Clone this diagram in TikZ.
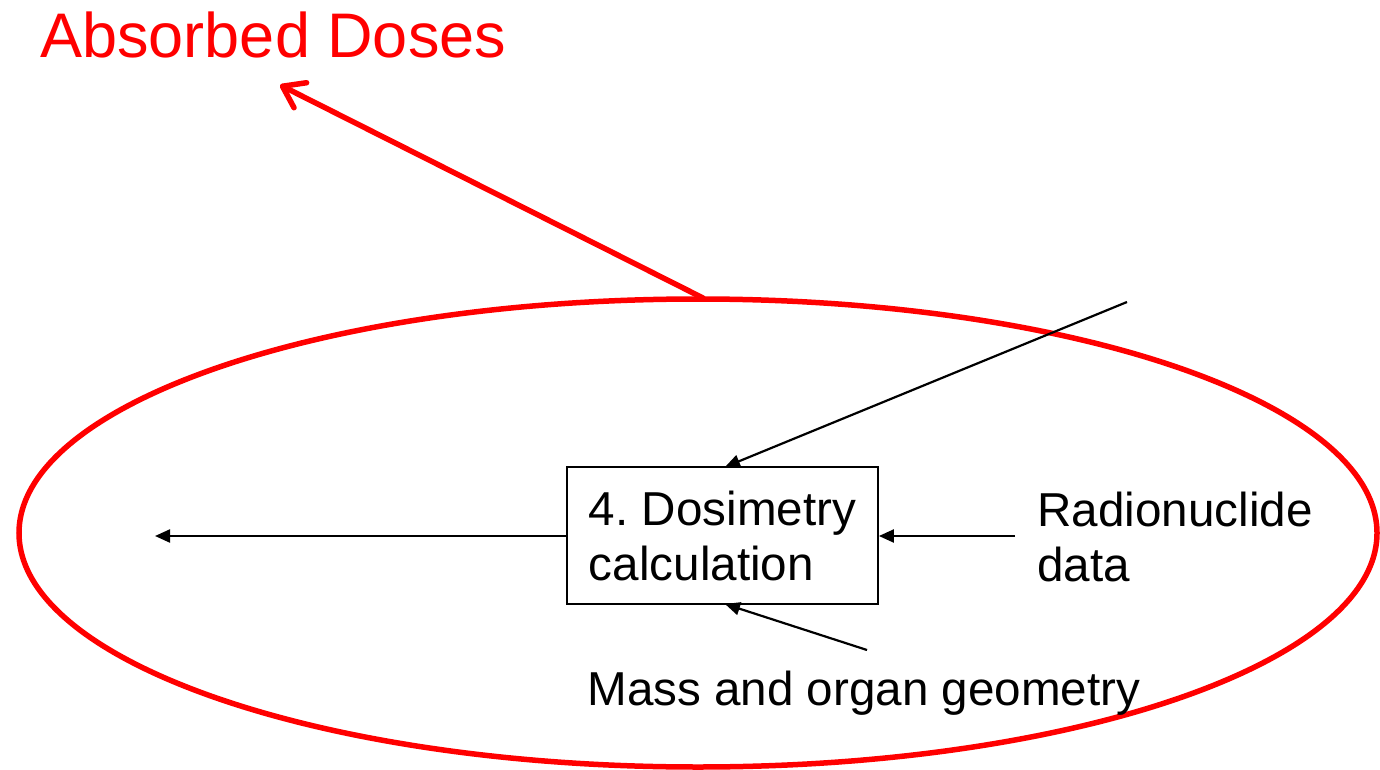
\documentclass[tikz,border=0pt]{standalone}
\usepackage{fontspec}
\setmainfont{Liberation Sans}
\usetikzlibrary{shapes.geometric,arrows.meta}
\definecolor{pptred}{RGB}{255,0,0}
\frenchspacing
\begin{document}
\begin{tikzpicture}[x=0.5pt,y=-0.5pt,
  lbl/.style={inner sep=0pt,align=left,font=\fontsize{23.8}{27.5}\selectfont},
  conn/.style={line width=1.1pt,-{Triangle[length=7.5pt,width=6.5pt]}},
  redline/.style={draw=pptred,line width=2.75pt},
  stepbox/.style={draw,line width=0.9pt,minimum width=155.5pt,minimum height=68.5pt,inner sep=0pt,align=left,font=\fontsize{23.8}{27.5}\selectfont}]
\useasboundingbox (0,0) rectangle (1380,770);
\node[ellipse,redline,inner sep=0pt,minimum width=679pt,minimum height=234pt] (ell) at (698,533) {};
\node[inner sep=0pt,anchor=base west,text=pptred,font=\fontsize{31.5}{36}\selectfont] (title) at (40,58) {Absorbed Doses};
\node[stepbox] (box) at (722.5,535.5) {4. Dosimetry\\calculation};
\node[lbl,anchor=west] (radio) at (1037,537) {Radionuclide\\data};
\node[lbl,anchor=base west] (mass) at (587,705) {Mass and organ geometry};
\coordinate (outL) at (155,536);
\coordinate (radioS) at (1015,536);
\coordinate (topS) at (1127,302);
\coordinate (massS) at (867,650);
\coordinate (redT) at (280,85);
\draw[conn] (box.west |- outL) -- (outL);
\draw[conn] (radioS) -- (box.east |- radioS);
\draw[conn] (topS) -- (725,467);
\draw[conn] (massS) -- (725,604);
\draw[redline,line cap=round,-{Straight Barb[length=10pt,width=14pt,round]}] (703,298) -- (redT);
\end{tikzpicture}
\end{document}
